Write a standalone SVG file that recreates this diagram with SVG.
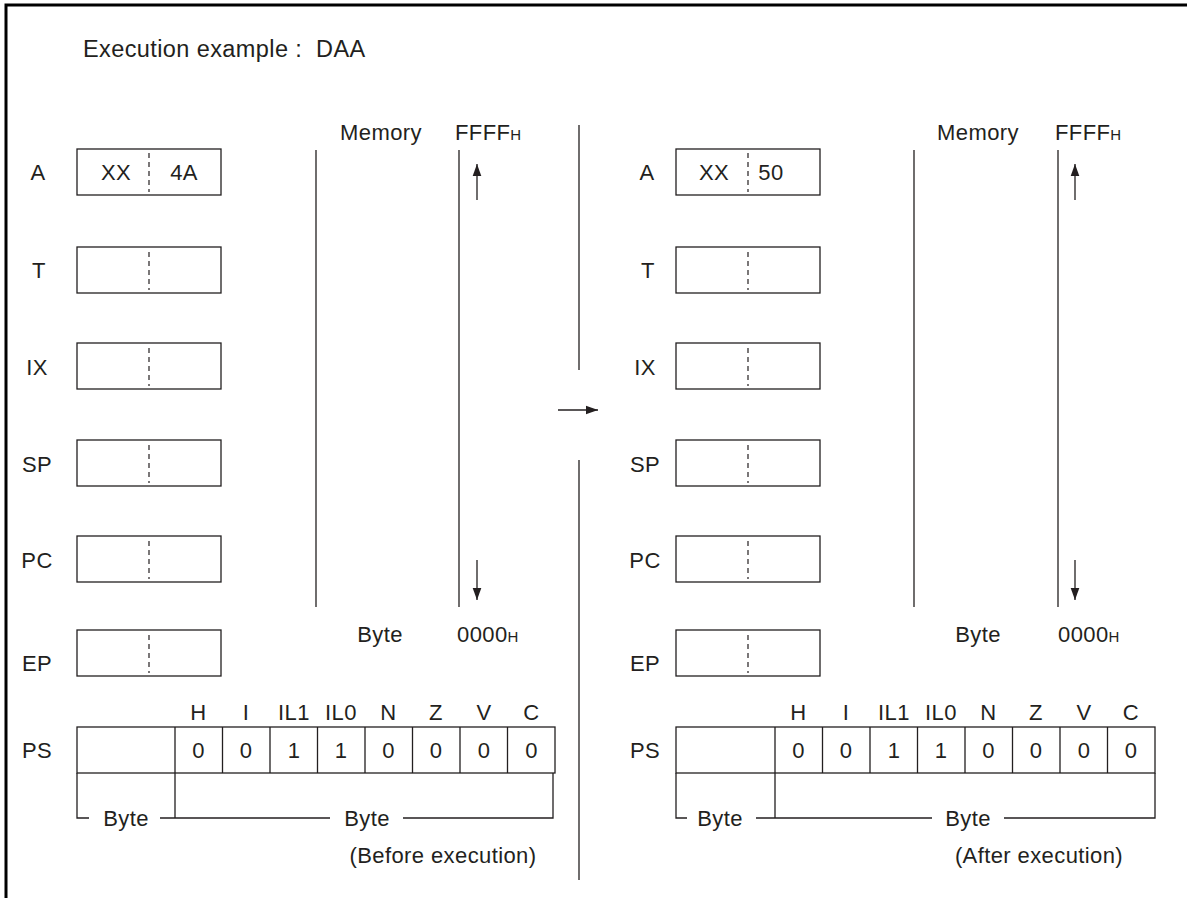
<svg xmlns="http://www.w3.org/2000/svg" width="1187" height="898" viewBox="0 0 1187 898">
<defs>
<marker id="ah" viewBox="0 0 10 10" refX="10" refY="5" markerWidth="12" markerHeight="12" markerUnits="userSpaceOnUse" orient="auto"><path d="M0,1.4 L10,5 L0,8.6 z" fill="#231f20"/></marker>
<style>
text{font-family:"Liberation Sans",Arial,sans-serif;font-size:22px;fill:#231f20;letter-spacing:0.4px}
.m{text-anchor:middle}
.s{font-size:15px}
.box{fill:none;stroke:#231f20;stroke-width:1.3}
.ln{fill:none;stroke:#231f20;stroke-width:1.3}
.dash{stroke:#231f20;stroke-width:1.2;stroke-dasharray:5,4}
.arr{stroke:#231f20;stroke-width:1.3;marker-end:url(#ah)}
</style>
</defs>
<rect width="1187" height="898" fill="#fff"/>
<path d="M6,898 V5 H1187" fill="none" stroke="#000" stroke-width="3"/>
<text x="83" y="57" style="white-space:pre;font-size:23.5px">Execution example :  DAA</text>

<g id="before">
<g id="regA"><text x="38" y="180" class="m">A</text><rect x="77" y="149" width="144" height="46" class="box"/><line x1="149" y1="153" x2="149" y2="192" class="dash"/><text x="116" y="180" class="m">XX</text><text x="184" y="180" class="m">4A</text></g>
<g id="regT"><text x="39" y="278" class="m">T</text><rect x="77" y="247" width="144" height="46" class="box"/><line x1="149" y1="252" x2="149" y2="290" class="dash"/></g>
<g id="regIX"><text x="37" y="375" class="m">IX</text><rect x="77" y="343" width="144" height="46" class="box"/><line x1="149" y1="348" x2="149" y2="386" class="dash"/></g>
<g id="regSP"><text x="37" y="472" class="m">SP</text><rect x="77" y="440" width="144" height="46" class="box"/><line x1="149" y1="445" x2="149" y2="483" class="dash"/></g>
<g id="regPC"><text x="37" y="568" class="m">PC</text><rect x="77" y="536" width="144" height="46" class="box"/><line x1="149" y1="541" x2="149" y2="579" class="dash"/></g>
<g id="regEP"><text x="37" y="671" class="m">EP</text><rect x="77" y="630" width="144" height="46" class="box"/><line x1="149" y1="635" x2="149" y2="673" class="dash"/></g>
<g id="mem">
<text x="381" y="140" class="m">Memory</text><text x="455" y="140">FFFF<tspan class="s">H</tspan></text>
<line x1="316" y1="150" x2="316" y2="607" class="ln"/><line x1="459" y1="150" x2="459" y2="607" class="ln"/>
<text x="380" y="642" class="m">Byte</text><text x="457" y="642">0000<tspan class="s">H</tspan></text>
</g>
<g id="regPS">
<text x="37" y="758" class="m">PS</text>
<rect x="77" y="727" width="478" height="46" class="box"/>
<path d="M175,727V773M222.5,727V773M270,727V773M317.5,727V773M365,727V773M412.5,727V773M460,727V773M507.5,727V773" class="ln"/>
<g><text x="198.5" y="720" class="m">H</text><text x="246" y="720" class="m">I</text><text x="294" y="720" class="m">IL1</text><text x="341" y="720" class="m">IL0</text><text x="388.5" y="720" class="m">N</text><text x="436" y="720" class="m">Z</text><text x="484" y="720" class="m">V</text><text x="531.5" y="720" class="m">C</text></g>
<g><text x="198.5" y="758" class="m">0</text><text x="246" y="758" class="m">0</text><text x="294" y="758" class="m">1</text><text x="341" y="758" class="m">1</text><text x="388.5" y="758" class="m">0</text><text x="436" y="758" class="m">0</text><text x="484" y="758" class="m">0</text><text x="531.5" y="758" class="m">0</text></g>
<path d="M77,773V818H89M160,818H175V773M175,818H330M403,818H553V773" class="ln"/>
<text x="126" y="826" class="m">Byte</text><text x="367" y="826" class="m">Byte</text>
</g>
<text x="443" y="863" class="m">(Before execution)</text>
</g>

<g id="after">
<g id="regA2"><text x="647" y="180" class="m">A</text><rect x="676" y="149" width="144" height="46" class="box"/><line x1="748" y1="153" x2="748" y2="192" class="dash"/><text x="714" y="180" class="m">XX</text><text x="771" y="180" class="m">50</text></g>
<g id="regT2"><text x="648" y="278" class="m">T</text><rect x="676" y="247" width="144" height="46" class="box"/><line x1="748" y1="252" x2="748" y2="290" class="dash"/></g>
<g id="regIX2"><text x="645" y="375" class="m">IX</text><rect x="676" y="343" width="144" height="46" class="box"/><line x1="748" y1="348" x2="748" y2="386" class="dash"/></g>
<g id="regSP2"><text x="645" y="472" class="m">SP</text><rect x="676" y="440" width="144" height="46" class="box"/><line x1="748" y1="445" x2="748" y2="483" class="dash"/></g>
<g id="regPC2"><text x="645" y="568" class="m">PC</text><rect x="676" y="536" width="144" height="46" class="box"/><line x1="748" y1="541" x2="748" y2="579" class="dash"/></g>
<g id="regEP2"><text x="645" y="671" class="m">EP</text><rect x="676" y="630" width="144" height="46" class="box"/><line x1="748" y1="635" x2="748" y2="673" class="dash"/></g>
<g id="mem2">
<text x="978" y="140" class="m">Memory</text><text x="1055" y="140">FFFF<tspan class="s">H</tspan></text>
<line x1="914" y1="150" x2="914" y2="607" class="ln"/><line x1="1058" y1="150" x2="1058" y2="607" class="ln"/>
<text x="978" y="642" class="m">Byte</text><text x="1058" y="642">0000<tspan class="s">H</tspan></text>
</g>
<g id="regPS2">
<text x="645" y="758" class="m">PS</text>
<rect x="676" y="727" width="479" height="46" class="box"/>
<path d="M775,727V773M822.5,727V773M870,727V773M917.5,727V773M965,727V773M1012.5,727V773M1060,727V773M1107.5,727V773" class="ln"/>
<g><text x="798.5" y="720" class="m">H</text><text x="846" y="720" class="m">I</text><text x="894" y="720" class="m">IL1</text><text x="941" y="720" class="m">IL0</text><text x="988.5" y="720" class="m">N</text><text x="1036" y="720" class="m">Z</text><text x="1084" y="720" class="m">V</text><text x="1131" y="720" class="m">C</text></g>
<g><text x="798.5" y="758" class="m">0</text><text x="846" y="758" class="m">0</text><text x="894" y="758" class="m">1</text><text x="941" y="758" class="m">1</text><text x="988.5" y="758" class="m">0</text><text x="1036" y="758" class="m">0</text><text x="1084" y="758" class="m">0</text><text x="1131" y="758" class="m">0</text></g>
<path d="M676,773V818H687M756,818H775V773M775,818H932M1004,818H1155V773" class="ln"/>
<text x="720" y="826" class="m">Byte</text><text x="968" y="826" class="m">Byte</text>
</g>
<text x="1039" y="863" class="m">(After execution)</text>
</g>

<g id="connectors">
<line x1="477" y1="200" x2="477" y2="164" class="arr"/>
<line x1="477" y1="560" x2="477" y2="600" class="arr"/>
<line x1="1075" y1="200" x2="1075" y2="164" class="arr"/>
<line x1="1075" y1="560" x2="1075" y2="600" class="arr"/>
<line x1="579" y1="125" x2="579" y2="370" class="ln"/>
<line x1="579" y1="460" x2="579" y2="880" class="ln"/>
<line x1="558" y1="410" x2="598" y2="410" class="arr"/>
</g>
</svg>
